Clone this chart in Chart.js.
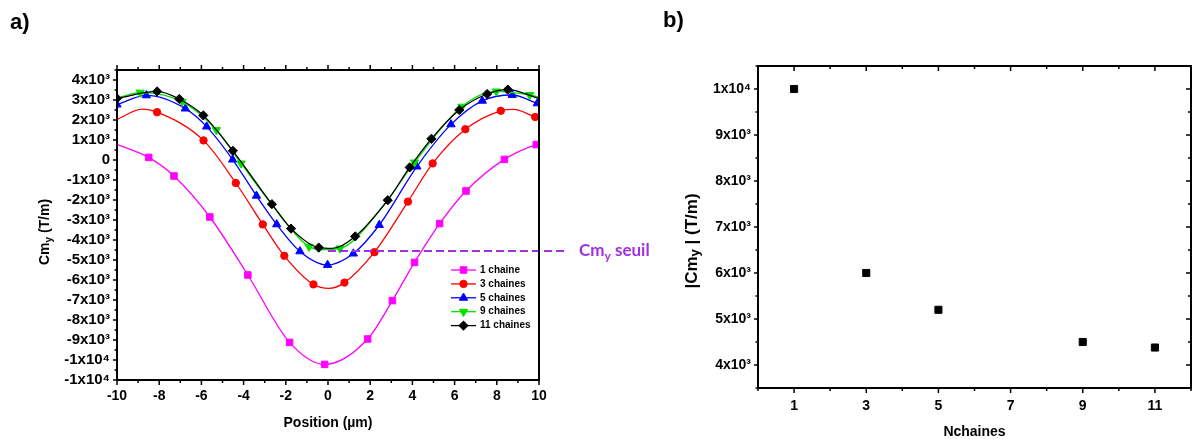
<!DOCTYPE html>
<html><head><meta charset="utf-8">
<script src="https://cdn.jsdelivr.net/npm/chart.js@4.4.0/dist/chart.umd.min.js"></script>
<style>
html,body{margin:0;padding:0;background:#fff;}
body{width:1192px;height:439px;position:relative;overflow:hidden;font-family:"Liberation Sans",Arial,sans-serif;}
#ca{position:absolute;left:0;top:0;}
#cb{position:absolute;left:660px;top:0;}
.panel{position:absolute;font:bold 22px "Liberation Sans",Arial,sans-serif;line-height:1;color:#000;}
#seuil{position:absolute;left:579px;top:241px;font:bold 17px Lato,"Open Sans",sans-serif;color:#A030E0;line-height:1;white-space:nowrap;}
#seuil sub{font-size:12px;vertical-align:-4px;line-height:0;}
</style></head>
<body>
<canvas id="ca" width="660" height="439"></canvas>
<canvas id="cb" width="532" height="439"></canvas>
<div class="panel" style="left:10px;top:11px">a)</div>
<div class="panel" style="left:663px;top:9px">b)</div>
<div id="seuil">Cm<sub>y</sub> seuil</div>
<script>
// ---------------- DATA (panel a) ----------------
const seriesNames = ['1 chaine','3 chaines','5 chaines','9 chaines','11 chaines'];

// marker points (position µm, Cm_y T/m)
const markPos1 = [-8.5,-7.3,-5.6,-3.8,-1.82,-0.16,1.88,3.05,4.1,5.29,6.54,8.36,9.87];
const markVal1 = [130,-800,-2850,-5750,-9120,-10220,-8950,-7030,-5120,-3180,-1550,30,770];
const markPos3 = [-8.1,-5.9,-4.37,-3.09,-2.07,-0.69,0.78,2.2,3.79,4.96,6.51,8.19,9.82];
const markVal3 = [2390,980,-1150,-3220,-4790,-6220,-6130,-4610,-2080,-170,1540,2460,2150];
const markPos5 = [-10,-8.61,-6.76,-5.75,-4.52,-3.39,-2.43,-1.33,-0.02,1.2,2.43,4.21,5.83,7.31,8.73,9.92];
const markVal5 = [2770,3230,2570,1670,20,-1790,-3220,-4570,-5250,-4680,-3250,-330,1780,2960,3250,2830];
const markPos9 = [-8.9,-6.92,-5.29,-4.12,-0.9,0.57,4.1,6.35,7.98,9.56];
const markVal9 = [3370,2920,1500,-170,-4330,-4420,-120,2670,3430,3250];
const markPos11 = [-10,-8.1,-7.05,-5.91,-4.51,-2.66,-1.75,-0.44,1.29,2.83,3.87,4.9,6.22,7.54,8.52];
const markVal11 = [3080,3430,3050,2230,460,-2210,-3430,-4380,-3820,-2010,-370,1060,2500,3300,3520];

// additional points read on the curves (no marker)
const curvePos1 = [-10,10];
const curveVal1 = [783,800];
const curvePos3 = [-10,-8.8,0.05,8.8,10];
const curveVal3 = [2030,2540,-6420,2530,2100];
const curvePos5 = [10];
const curveVal5 = [2800];
const curvePos9 = [-10,-2.6,-0.2,2.5,10];
const curveVal9 = [3100,-2300,-4480,-2450,3150];
const curvePos11 = [0.2,10];
const curveVal11 = [-4420,3080];

// threshold
const seuilValue = -4550;
const seuilFrom = 0;
const seuilTo = 11.33;

// axis ticks (panel a)
const xTicksA = [-10,-8,-6,-4,-2,0,2,4,6,8,10];
const xTickLabelsA = ['-10','-8','-6','-4','-2','0','2','4','6','8','10'];
const yTicksA = [4000,3000,2000,1000,0,-1000,-2000,-3000,-4000,-5000,-6000,-7000,-8000,-9000,-10000,-11000];
const yTickLabelsA = ['4x10³','3x10³','2x10³','1x10³','0','-1x10³','-2x10³','-3x10³','-4x10³','-5x10³','-6x10³','-7x10³','-8x10³','-9x10³','-1x10⁴','-1x10⁴'];

// ---------------- DATA (panel b) ----------------
const nChains = [1,3,5,9,11];
const cmyAbs = [10000,6000,5200,4500,4380];
const xTicksB = [1,3,5,7,9,11];
const xTickLabelsB = ['1','3','5','7','9','11'];
const yTicksB = [10000,9000,8000,7000,6000,5000,4000];
const yTickLabelsB = ['1x10⁴','9x10³','8x10³','7x10³','6x10³','5x10³','4x10³'];

// ---------------- helpers ----------------
const FONT = '"Liberation Sans", Arial, sans-serif';
Chart.defaults.font.family = FONT;
Chart.defaults.color = '#000';

function build(mp, mv, cp, cv){
  const pts = mp.map((x,i)=>({x:x, y:mv[i], m:true}))
    .concat(cp.map((x,i)=>({x:x, y:cv[i], m:false})));
  pts.sort((a,b)=>a.x-b.x);
  return pts;
}

function drawParts(ctx, parts, cx, cy, rot){
  ctx.save();
  ctx.translate(cx, cy); ctx.rotate(rot||0);
  let total = 0;
  parts.forEach(p=>{ctx.font='bold '+p.size+'px '+FONT; p.w=ctx.measureText(p.t).width; total+=p.w;});
  let x = -total/2;
  ctx.textBaseline='middle'; ctx.textAlign='left'; ctx.fillStyle='#000';
  parts.forEach(p=>{ctx.font='bold '+p.size+'px '+FONT; ctx.fillText(p.t, x, p.dy||0); x+=p.w;});
  ctx.restore();
}

function drawMarker(ctx, style, rot, r, x, y, color){
  ctx.save();
  ctx.fillStyle=color; ctx.strokeStyle=color;
  if (Chart.helpers && Chart.helpers.drawPoint){
    Chart.helpers.drawPoint(ctx,{pointStyle:style,rotation:rot||0,radius:r,borderWidth:1},x,y);
  } else {
    ctx.beginPath(); ctx.arc(x,y,r,0,Math.PI*2); ctx.fill();
  }
  ctx.restore();
}

// frame + ticks
function frameTicksPlugin(sides){
  return {id:'frameTicks', afterDraw(chart){
    const ctx=chart.ctx, a=chart.chartArea, xs=chart.scales.x, ys=chart.scales.y;
    ctx.save();
    ctx.strokeStyle='#000'; ctx.lineWidth=1.5; ctx.lineCap='butt';
    const draw=(side, vals, len, inward)=>{
      vals.forEach(v=>{
        ctx.beginPath();
        if (side==='bottom'||side==='top'){
          const px=xs.getPixelForValue(v);
          const base = side==='bottom'?a.bottom:a.top;
          const dir = (side==='bottom'?1:-1)*(inward?-1:1);
          ctx.moveTo(px,base); ctx.lineTo(px,base+dir*len);
        } else {
          const py=ys.getPixelForValue(v);
          const base = side==='left'?a.left:a.right;
          const dir = (side==='left'?-1:1)*(inward?-1:1);
          ctx.moveTo(base,py); ctx.lineTo(base+dir*len,py);
        }
        ctx.stroke();
      });
    };
    Object.keys(sides).forEach(s=>{
      const o=sides[s];
      draw(s,o.major,o.len,o.inward);
      draw(s,o.minor,o.mlen,o.inward);
    });
    ctx.lineWidth=2;
    ctx.strokeRect(a.left,a.top,a.right-a.left,a.bottom-a.top);
    ctx.restore();
  }};
}
function range(a,b,s){const r=[];for(let v=a;v<=b+1e-9;v+=s)r.push(+v.toFixed(6));return r;}
function fixX(h){return function(s){s.height=h; s.paddingLeft=0; s.paddingRight=0;};}
function fixY(w){return function(s){s.width=w; s.paddingTop=0; s.paddingBottom=0;};}

// ---------------- chart a ----------------
const colors = ['#FF00FF','#FF0000','#0000FF','#00E000','#000000'];
const styles = ['rect','circle','triangle','triangle','rectRot'];
const rots = [0,0,0,180,0];
const radii = [4.6,3.7,4.8,4.8,4.6];
const dataA = [
  build(markPos1,markVal1,curvePos1,curveVal1),
  build(markPos3,markVal3,curvePos3,curveVal3),
  build(markPos5,markVal5,curvePos5,curveVal5),
  build(markPos9,markVal9,curvePos9,curveVal9),
  build(markPos11,markVal11,curvePos11,curveVal11)
];
const dsA = dataA.map((d,i)=>({
  label: seriesNames[i], data:d, inLegend:true,
  borderColor: colors[i], backgroundColor: colors[i], borderWidth:1.3,
  pointStyle: styles[i], pointRotation: rots[i],
  pointBackgroundColor: colors[i], pointBorderColor: colors[i], pointBorderWidth:1,
  pointRadius: (c)=> (c.raw && c.raw.m) ? radii[i] : 0,
  legendRadius: radii[i],
  cubicInterpolationMode:'monotone', fill:false, order: 5-i+1
}));
dsA.push({label:'seuil', data:[{x:seuilFrom,y:seuilValue},{x:seuilTo,y:seuilValue}],
  borderColor:'#A030E0', borderWidth:2, borderDash:[8,4], pointRadius:0, clip:false, order:0, fill:false});

const legendPlugin = {id:'innerLegend', afterDatasetsDraw(chart){
  const ctx=chart.ctx, a=chart.chartArea;
  const x0=a.right-88, x1=a.right-63, tx=a.right-59;
  let y=a.top+200;
  chart.data.datasets.forEach(ds=>{
    if(!ds.inLegend) return;
    ctx.save();
    ctx.strokeStyle=ds.borderColor; ctx.lineWidth=ds.borderWidth;
    ctx.beginPath(); ctx.moveTo(x0,y); ctx.lineTo(x1,y); ctx.stroke();
    ctx.restore();
    drawMarker(ctx, ds.pointStyle, ds.pointRotation, ds.legendRadius, (x0+x1)/2, y, ds.borderColor);
    ctx.save();
    ctx.fillStyle='#000'; ctx.font='bold 10px '+FONT; ctx.textBaseline='middle'; ctx.textAlign='left';
    ctx.fillText(ds.label, tx, y);
    ctx.restore();
    y+=13.9;
  });
}};

const titlesA = {id:'titlesA', afterDraw(chart){
  const ctx=chart.ctx, a=chart.chartArea;
  drawParts(ctx,[{t:'Position (µm)',size:14}], (a.left+a.right)/2, a.bottom+43, 0);
  drawParts(ctx,[{t:'Cm',size:14},{t:'y',size:10,dy:4},{t:' (T/m)',size:14}], a.left-72, (a.top+a.bottom)/2+7, -Math.PI/2);
}};

new Chart(document.getElementById('ca'), {
  type:'line',
  data:{datasets:dsA},
  options:{
    responsive:false, animation:false, events:[],
    layout:{autoPadding:false, padding:{left:17,right:121,top:70,bottom:29}},
    plugins:{legend:{display:false},tooltip:{enabled:false}},
    scales:{
      x:{type:'linear',min:-10,max:10,
        afterFit:fixX(30),
        afterBuildTicks(s){s.ticks=xTicksA.map(v=>({value:v}));},
        grid:{display:false,drawTicks:false}, border:{display:false},
        ticks:{padding:8,autoSkip:false,maxRotation:0,color:'#000',font:{size:14,weight:'bold'},
          callback:(v,i)=>xTickLabelsA[i]}},
      y:{type:'linear',min:-11000,max:4500,
        afterFit:fixY(100),
        afterBuildTicks(s){s.ticks=yTicksA.map(v=>({value:v}));},
        grid:{display:false,drawTicks:false}, border:{display:false},
        ticks:{padding:7,autoSkip:false,color:'#000',font:{size:15,weight:'bold'},
          callback:(v,i)=>yTickLabelsA[i]}}
    }
  },
  plugins:[frameTicksPlugin({
    bottom:{major:range(-10,10,2),minor:range(-9,9,2),len:5,mlen:3,inward:false},
    top:{major:range(-10,10,2),minor:range(-9,9,2),len:5,mlen:3,inward:false},
    left:{major:range(-11000,4000,1000),minor:range(-10500,4500,1000),len:4,mlen:2.5,inward:false}
  }), legendPlugin, titlesA]
});

// ---------------- chart b ----------------
const titlesB = {id:'titlesB', afterDraw(chart){
  const ctx=chart.ctx, a=chart.chartArea;
  drawParts(ctx,[{t:'Nchaines',size:14}], (a.left+a.right)/2, a.bottom+44, 0);
  drawParts(ctx,[{t:'|Cm',size:17},{t:'y',size:13,dy:3},{t:' | (T/m)',size:17}], a.left-66, (a.top+a.bottom)/2+14, -Math.PI/2);
}};

new Chart(document.getElementById('cb'), {
  type:'scatter',
  data:{datasets:[{label:'|Cmy|', data:nChains.map((n,i)=>({x:n,y:cmyAbs[i]})),
    pointStyle:'rect', pointRadius:5, backgroundColor:'#000', borderColor:'#000', pointBorderWidth:1, showLine:false}]},
  options:{
    responsive:false, animation:false, events:[],
    layout:{autoPadding:false, padding:{left:18,right:1,top:66,bottom:21}},
    plugins:{legend:{display:false},tooltip:{enabled:false}},
    scales:{
      x:{type:'linear',min:0,max:12,
        afterFit:fixX(30),
        afterBuildTicks(s){s.ticks=xTicksB.map(v=>({value:v}));},
        grid:{display:false,drawTicks:false}, border:{display:false},
        ticks:{padding:10,autoSkip:false,maxRotation:0,color:'#000',font:{size:14,weight:'bold'},
          callback:(v,i)=>xTickLabelsB[i]}},
      y:{type:'linear',min:3500,max:10500,
        afterFit:fixY(80),
        afterBuildTicks(s){s.ticks=yTicksB.map(v=>({value:v}));},
        grid:{display:false,drawTicks:false}, border:{display:false},
        ticks:{padding:7,autoSkip:false,color:'#000',font:{size:14,weight:'bold'},
          callback:(v,i)=>yTickLabelsB[i]}}
    }
  },
  plugins:[frameTicksPlugin({
    bottom:{major:range(1,11,2),minor:range(0,12,2),len:5,mlen:3,inward:false},
    top:{major:range(1,11,2),minor:range(0,12,2),len:5,mlen:3,inward:true},
    left:{major:range(4000,10000,1000),minor:range(3500,10500,1000),len:4,mlen:2.5,inward:false},
    right:{major:range(4000,10000,1000),minor:range(3500,10500,1000),len:5,mlen:3,inward:true}
  }), titlesB]
});
</script>
</body></html>
